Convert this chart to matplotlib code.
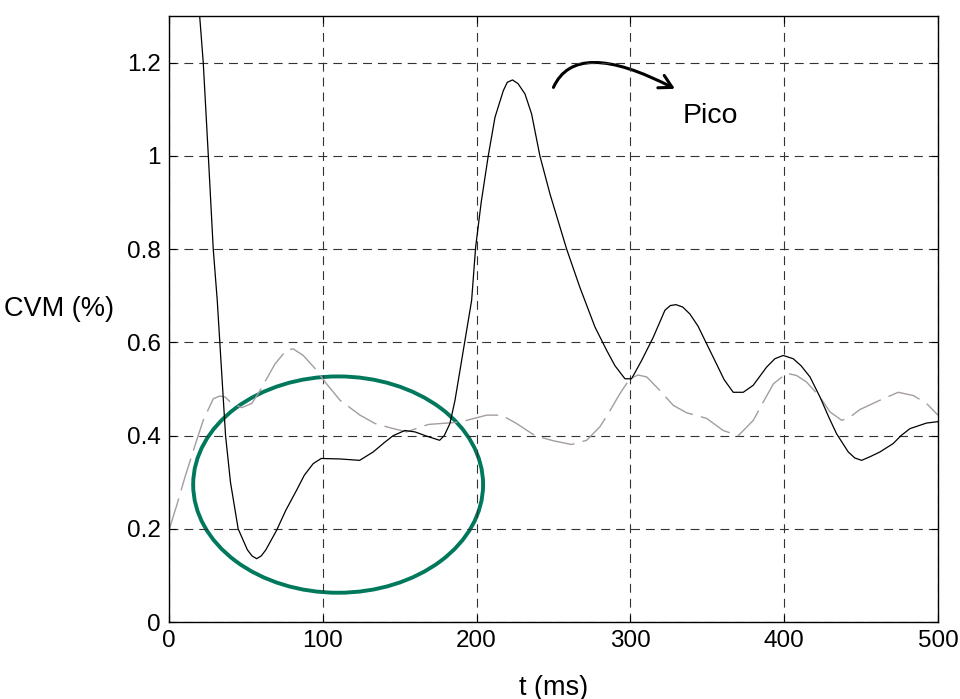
import matplotlib
matplotlib.use("Agg")

import matplotlib.pyplot as plt
from matplotlib.patches import Ellipse, FancyArrowPatch
from matplotlib.path import Path

# black curve (CVM)
t_cvm = [19.5, 22.3, 25.6, 28.8, 31.4, 34, 36.8, 40, 45, 51, 54, 57, 60, 63, 70, 76, 83,
         88, 93.8, 99, 111, 124, 132.8, 140, 145.8, 153.4, 160, 167.5, 176, 179, 182.7,
         186, 191.4, 196.8, 199.4, 203, 207.6, 212, 217.4, 220, 223.4, 227, 231.5, 235.8,
         241.2, 247.7, 258.6, 267.2, 277, 284.6, 290, 296.5, 300.8, 307.3, 314.9, 322.5,
         326, 329.6, 334, 338.7, 344, 349.6, 356, 361, 366.9, 373.4, 379.9, 388.6, 394,
         399.4, 405.9, 411, 416.8, 423.3, 429, 434.1, 441.7, 446, 450.4, 456, 462.3,
         470.9, 476, 481.8, 492.6, 500]
v_cvm = [1.32, 1.2, 1.0, 0.8, 0.69, 0.55, 0.4, 0.3, 0.2, 0.155, 0.142, 0.136, 0.142,
         0.155, 0.197, 0.24, 0.283, 0.315, 0.34, 0.351, 0.35, 0.347, 0.365, 0.385, 0.40,
         0.411, 0.408, 0.399, 0.39, 0.40, 0.426, 0.476, 0.583, 0.69, 0.804, 0.90, 1.0,
         1.083, 1.14, 1.158, 1.163, 1.155, 1.133, 1.09, 1.0, 0.919, 0.80, 0.718, 0.633,
         0.583, 0.55, 0.522, 0.522, 0.561, 0.611, 0.669, 0.679, 0.681, 0.676, 0.661,
         0.635, 0.597, 0.554, 0.52, 0.493, 0.493, 0.508, 0.547, 0.565, 0.572, 0.565,
         0.55, 0.526, 0.483, 0.44, 0.404, 0.365, 0.352, 0.347, 0.355, 0.365, 0.383,
         0.40, 0.415, 0.427, 0.43]

# gray dashed curve
t_ref = [0, 5, 10.4, 18, 22.3, 28.8, 33, 36.4, 40.6, 47.3, 53.8, 58, 63.5, 69, 76.5, 80.8,
         87.3, 95, 102.5, 111.2, 124.2, 134, 143.7, 154.5, 168.6, 189.2, 206.6, 216.3,
         226, 238, 249.9, 261.8, 271.6, 280.2, 285.6, 293.2, 299.7, 305, 310.6, 319.2,
         327.9, 336.6, 349.6, 360.4, 370.2, 380, 386.4, 393, 401.6, 408.1, 414.6, 423.3,
         429.8, 437.4, 441.7, 449.3, 462.3, 474.2, 484, 492.6, 500]
v_ref = [0.197, 0.25, 0.311, 0.39, 0.433, 0.479, 0.485, 0.483, 0.47, 0.46, 0.469, 0.49,
         0.522, 0.554, 0.584, 0.586, 0.572, 0.544, 0.511, 0.476, 0.444, 0.426, 0.417,
         0.408, 0.424, 0.429, 0.444, 0.444, 0.426, 0.40, 0.389, 0.381, 0.39, 0.419,
         0.447, 0.49, 0.522, 0.53, 0.526, 0.497, 0.465, 0.449, 0.437, 0.411, 0.40,
         0.433, 0.472, 0.511, 0.534, 0.529, 0.515, 0.483, 0.451, 0.433, 0.437, 0.456,
         0.476, 0.493, 0.486, 0.469, 0.444]

x_ticks = [0, 100, 200, 300, 400, 500]
y_ticks = [0, 0.2, 0.4, 0.6, 0.8, 1, 1.2]
y_labels = ['0', '0.2', '0.4', '0.6', '0.8', '1', '1.2']

plt.rcParams['font.family'] = ['Liberation Sans', 'DejaVu Sans']

fig = plt.figure(figsize=(9.6, 6.99), dpi=100)
ax = fig.add_axes([0.176, 0.110, 0.801, 0.867])

ax.plot(t_ref, v_ref, color='#a39ca3', lw=1.0, dashes=(24, 6))
ax.plot(t_cvm, v_cvm, color='k', lw=0.9)

ax.set_xlim(0, 500)
ax.set_ylim(0, 1.3)
ax.set_xticks(x_ticks)
ax.set_yticks(y_ticks)
ax.set_yticklabels(y_labels)
ax.tick_params(direction='in', top=True, right=True, labelsize=17.5, length=5, pad=6)
ax.grid(True, color='#333333', lw=0.8, dashes=(8, 5.4))
for s in ax.spines.values():
    s.set_linewidth(1.0)

ax.set_xlabel('t (ms)', fontsize=19.5, labelpad=16)
ax.set_ylabel('CVM (%)', fontsize=19.5, rotation=0, ha='right', va='center')
ax.yaxis.set_label_coords(-0.072, 0.516)

# highlighted region
ax.add_patch(Ellipse((110, 0.295), 188.5, 0.464, fill=False, edgecolor='#00785c', lw=2.8))

# curved arrow and "Pico" note
arc = Path([(250, 1.147), (264.5, 1.254), (329, 1.144)],
           [Path.MOVETO, Path.CURVE3, Path.CURVE3])
ax.add_patch(FancyArrowPatch(path=arc, arrowstyle='->,head_length=9,head_width=5',
                             color='k', lw=2.2))
ax.text(334, 1.086, 'Pico', fontsize=20.5, va='center', ha='left')

plt.savefig('out.png', dpi=100)
